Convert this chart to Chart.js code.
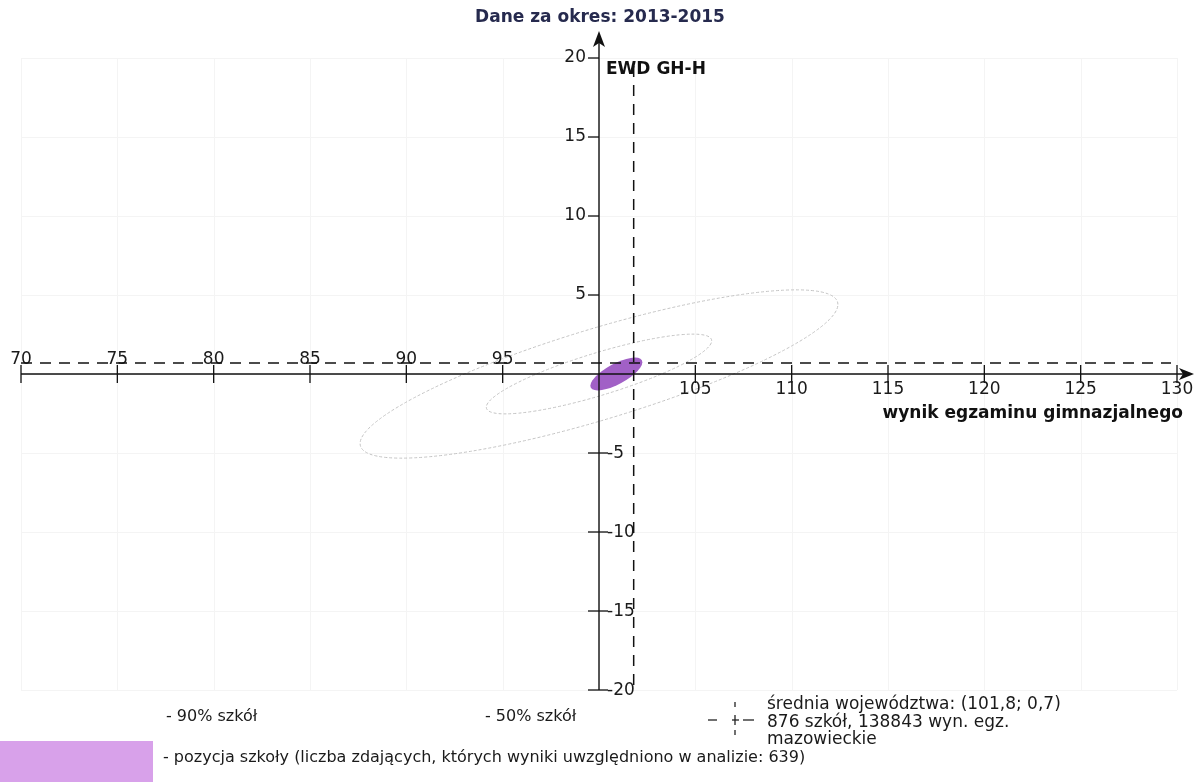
<!DOCTYPE html>
<html>
<head>
<meta charset="utf-8">
<script src="https://cdn.jsdelivr.net/npm/chart.js@4.4.1/dist/chart.umd.min.js"></script>
<style>
    body { margin: 0; background: #fff; }
    #wrap { width: 1196px; height: 782px; }
</style>
</head>
<body>
<div id="wrap"><canvas id="ewd" width="1196" height="782"></canvas></div>
<script>
// axis ticks
const xTicks = [70, 75, 80, 85, 90, 95, 100, 105, 110, 115, 120, 125, 130];
const yTicks = [-20, -15, -10, -5, 0, 5, 10, 15, 20];

// province mean (wynik egzaminu, EWD)
const meanX = [101.8];
const meanY = [0.7];

// ellipses: centre and two conjugate half-axes, in data units
const ellipseNames = ['90% szkół', '50% szkół', 'pozycja szkoły'];
const ellipseCenters = [[100.0, 0.0], [100.0, 0.0], [100.9, 0.0]];
const ellipseAxisA = [[12.4, 4.4], [5.85, 2.1], [1.35, 0.75]];
const ellipseAxisB = [[0, 3.0], [0, 1.4], [0, 0.72]];

const legendLines = ['średnia województwa: (101,8; 0,7)', '876 szkół, 138843 wyn. egz.', 'mazowieckie'];

const FONT = '"DejaVu Sans", sans-serif';

function ellipsePath(ctx, xs, ys, c, a, b) {
    const cx = xs.getPixelForValue(c[0]), cy = ys.getPixelForValue(c[1]);
    const ux = xs.getPixelForValue(c[0] + a[0]) - cx, uy = ys.getPixelForValue(c[1] + a[1]) - cy;
    const vx = xs.getPixelForValue(c[0] + b[0]) - cx, vy = ys.getPixelForValue(c[1] + b[1]) - cy;
    ctx.save();
    ctx.beginPath();
    ctx.transform(ux, uy, vx, vy, cx, cy);
    ctx.arc(0, 0, 1, 0, Math.PI * 2);
    ctx.restore();
}

const ewdPlot = {
    id: 'ewdPlot',
    beforeDatasetsDraw(chart) {
        const ctx = chart.ctx;
        const xs = chart.scales.x, ys = chart.scales.y;
        const x0 = xs.getPixelForValue(100), y0 = ys.getPixelForValue(0);
        const top = ys.getPixelForValue(20), bottom = ys.getPixelForValue(-20);
        const left = xs.getPixelForValue(70), right = xs.getPixelForValue(130);

        ctx.save();
        // faint grid
        ctx.strokeStyle = '#f4f4f4';
        ctx.lineWidth = 1;
        xTicks.forEach(v => {
            const px = Math.round(xs.getPixelForValue(v)) + 0.5;
            ctx.beginPath(); ctx.moveTo(px, top); ctx.lineTo(px, bottom); ctx.stroke();
        });
        yTicks.forEach(v => {
            const py = Math.round(ys.getPixelForValue(v)) + 0.5;
            ctx.beginPath(); ctx.moveTo(left, py); ctx.lineTo(right, py); ctx.stroke();
        });

        // province ellipses (dotted grey)
        ctx.strokeStyle = '#c4c4c4';
        ctx.lineWidth = 1;
        ctx.setLineDash([3, 2]);
        for (let i = 0; i < 2; i++) {
            ellipsePath(ctx, xs, ys, ellipseCenters[i], ellipseAxisA[i], ellipseAxisB[i]);
            ctx.stroke();
        }
        ctx.setLineDash([]);

        // school position
        ellipsePath(ctx, xs, ys, ellipseCenters[2], ellipseAxisA[2], ellipseAxisB[2]);
        ctx.fillStyle = '#a160c6';
        ctx.fill();

        // axes
        ctx.strokeStyle = '#111';
        ctx.fillStyle = '#111';
        ctx.lineWidth = 1.4;
        ctx.beginPath(); ctx.moveTo(left, y0); ctx.lineTo(right + 12, y0); ctx.stroke();
        ctx.beginPath(); ctx.moveTo(x0, bottom); ctx.lineTo(x0, top - 20); ctx.stroke();
        // arrow heads
        ctx.beginPath();
        ctx.moveTo(right + 17, y0); ctx.lineTo(right + 2, y0 - 6); ctx.lineTo(right + 6, y0); ctx.lineTo(right + 2, y0 + 6);
        ctx.closePath(); ctx.fill();
        ctx.beginPath();
        ctx.moveTo(x0, top - 27); ctx.lineTo(x0 - 6, top - 11); ctx.lineTo(x0, top - 15); ctx.lineTo(x0 + 6, top - 11);
        ctx.closePath(); ctx.fill();

        // tick marks
        ctx.lineWidth = 1.3;
        xTicks.forEach(v => {
            if (v === 100) return;
            const px = xs.getPixelForValue(v);
            ctx.beginPath(); ctx.moveTo(px, y0 - 9); ctx.lineTo(px, y0 + 9); ctx.stroke();
        });
        yTicks.forEach(v => {
            if (v === 0) return;
            const py = ys.getPixelForValue(v);
            ctx.beginPath(); ctx.moveTo(x0 - 11, py); ctx.lineTo(x0 + (v > 0 ? 0 : 9), py); ctx.stroke();
        });

        // tick labels
        ctx.font = '17px ' + FONT;
        ctx.fillStyle = '#1a1a1a';
        xTicks.forEach(v => {
            if (v === 100) return;
            const px = xs.getPixelForValue(v);
            ctx.textAlign = 'center';
            if (v < 100) {
                ctx.textBaseline = 'alphabetic';
                ctx.fillText(String(v), px, y0 - 10);
            } else {
                ctx.textBaseline = 'top';
                ctx.fillText(String(v), px, y0 + 7);
            }
        });
        ctx.textBaseline = 'middle';
        yTicks.forEach(v => {
            if (v === 0) return;
            const py = ys.getPixelForValue(v);
            if (v > 0) {
                ctx.textAlign = 'right';
                ctx.fillText(String(v), x0 - 13, py);
            } else {
                ctx.textAlign = 'left';
                ctx.fillText(String(v), x0 + 8, py + 1);
            }
        });

        // province mean (dashed cross)
        const mx = xs.getPixelForValue(meanX[0]), my = ys.getPixelForValue(meanY[0]);
        ctx.strokeStyle = '#111';
        ctx.lineWidth = 1.5;
        ctx.setLineDash([11, 8]);
        ctx.beginPath(); ctx.moveTo(left, my); ctx.lineTo(right - 6, my); ctx.stroke();
        ctx.beginPath(); ctx.moveTo(mx, top + 8); ctx.lineTo(mx, bottom); ctx.stroke();
        ctx.setLineDash([]);

        // axis titles
        ctx.font = 'bold 17px ' + FONT;
        ctx.fillStyle = '#111';
        ctx.textAlign = 'left';
        ctx.textBaseline = 'middle';
        ctx.fillText('EWD GH-H', x0 + 7, top + 12);
        ctx.textAlign = 'right';
        ctx.fillText('wynik egzaminu gimnazjalnego', right + 6, y0 + 40);
        ctx.restore();
    },
    afterDraw(chart) {
        const ctx = chart.ctx;
        ctx.save();
        // title
        ctx.font = 'bold 17px ' + FONT;
        ctx.fillStyle = '#262a4e';
        ctx.textAlign = 'center';
        ctx.textBaseline = 'middle';
        ctx.fillText('Dane za okres: 2013-2015', 600, 18);

        // legend
        ctx.fillStyle = '#1a1a1a';
        ctx.textAlign = 'left';
        ctx.font = '16px ' + FONT;
        ctx.fillText('- ' + ellipseNames[0], 166, 717);
        ctx.fillText('- ' + ellipseNames[1], 485, 717);
        ctx.fillText('- ' + ellipseNames[2] + ' (liczba zdających, których wyniki uwzględniono w analizie: 639)', 163, 758);

        ctx.fillStyle = '#d8a1ea';
        ctx.fillRect(0, 741, 153, 41);

        // mean symbol
        ctx.strokeStyle = '#222';
        ctx.lineWidth = 1.3;
        const sx = 735, sy = 720;
        [[-27, -18], [-3, 4], [8, 19]].forEach(d => {
            ctx.beginPath(); ctx.moveTo(sx + d[0], sy); ctx.lineTo(sx + d[1], sy); ctx.stroke();
        });
        [[-18, -13], [-5, 5], [10, 15]].forEach(d => {
            ctx.beginPath(); ctx.moveTo(sx, sy + d[0]); ctx.lineTo(sx, sy + d[1]); ctx.stroke();
        });

        ctx.fillStyle = '#1a1a1a';
        ctx.font = '17px ' + FONT;
        legendLines.forEach((t, i) => ctx.fillText(t, 767, 705 + i * 17.5));
        ctx.restore();
    }
};

new Chart(document.getElementById('ewd').getContext('2d'), {
    type: 'scatter',
    data: {
        datasets: [{
            label: 'średnia województwa',
            data: meanX.map((x, i) => ({ x: x, y: meanY[i] })),
            pointRadius: 0
        }]
    },
    options: {
        responsive: false,
        animation: false,
        devicePixelRatio: 1,
        layout: { padding: { left: 21, right: 19, top: 58, bottom: 92 } },
        scales: {
            x: { type: 'linear', min: 70, max: 130, display: false },
            y: { type: 'linear', min: -20, max: 20, display: false }
        },
        plugins: {
            legend: { display: false },
            tooltip: { enabled: false }
        }
    },
    plugins: [ewdPlot]
});
</script>
</body>
</html>
